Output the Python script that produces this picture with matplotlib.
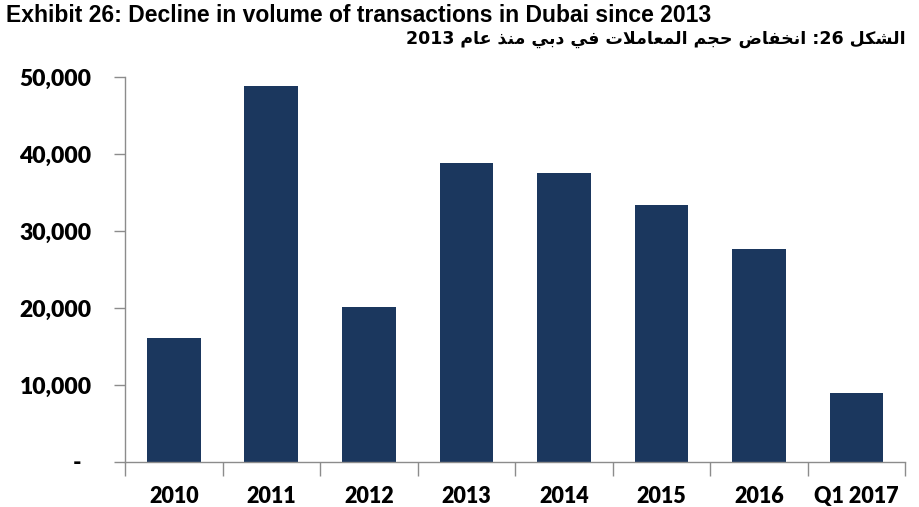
import matplotlib
matplotlib.use("Agg")
import matplotlib.pyplot as plt
from matplotlib.ticker import FixedLocator, FuncFormatter

categories = ["2010", "2011", "2012", "2013", "2014", "2015", "2016", "Q1 2017"]
values = [16150, 48800, 20100, 38800, 37500, 33400, 27700, 8900]
yticks = [0, 10000, 20000, 30000, 40000, 50000]

title_en = "Exhibit 26: Decline in volume of transactions in Dubai since 2013"
title_ar = "الشكل 26: انخفاض حجم المعاملات في دبي منذ عام 2013"

# --- minimal Arabic shaping (presentation forms) + visual ordering ---
FORMS = {  # isolated, final, initial, medial
    'ا': (0xFE8D, 0xFE8E, None, None),
    'ب': (0xFE8F, 0xFE90, 0xFE91, 0xFE92),
    'ت': (0xFE95, 0xFE96, 0xFE97, 0xFE98),
    'ج': (0xFE9D, 0xFE9E, 0xFE9F, 0xFEA0),
    'ح': (0xFEA1, 0xFEA2, 0xFEA3, 0xFEA4),
    'خ': (0xFEA5, 0xFEA6, 0xFEA7, 0xFEA8),
    'د': (0xFEA9, 0xFEAA, None, None),
    'ذ': (0xFEAB, 0xFEAC, None, None),
    'ش': (0xFEB5, 0xFEB6, 0xFEB7, 0xFEB8),
    'ض': (0xFEBD, 0xFEBE, 0xFEBF, 0xFEC0),
    'ع': (0xFEC9, 0xFECA, 0xFECB, 0xFECC),
    'ف': (0xFED1, 0xFED2, 0xFED3, 0xFED4),
    'ك': (0xFED9, 0xFEDA, 0xFEDB, 0xFEDC),
    'ل': (0xFEDD, 0xFEDE, 0xFEDF, 0xFEE0),
    'م': (0xFEE1, 0xFEE2, 0xFEE3, 0xFEE4),
    'ن': (0xFEE5, 0xFEE6, 0xFEE7, 0xFEE8),
    'ي': (0xFEF1, 0xFEF2, 0xFEF3, 0xFEF4),
}


def dual(c):
    return c in FORMS and FORMS[c][2] is not None


def shape_word(w):
    out = []
    i = 0
    n = len(w)
    while i < n:
        c = w[i]
        prev = w[i - 1] if i > 0 else ''
        joins_prev = dual(prev)
        if c == 'ل' and i + 1 < n and w[i + 1] == 'ا':
            out.append(chr(0xFEFC if joins_prev else 0xFEFB))
            i += 2
            continue
        if c not in FORMS:
            out.append(c)
            i += 1
            continue
        nxt = w[i + 1] if i + 1 < n else ''
        joins_next = dual(c) and nxt in FORMS
        iso, fin, ini, med = FORMS[c]
        if joins_prev and joins_next:
            g = med
        elif joins_prev:
            g = fin
        elif joins_next:
            g = ini
        else:
            g = iso
        out.append(chr(g))
        i += 1
    return ''.join(reversed(out))


def visual(text):
    parts = []
    for tok in text.split(' '):
        if any(ch in FORMS for ch in tok):
            parts.append(shape_word(tok))
        elif tok.endswith(':'):
            parts.append(':' + tok[:-1])
        else:
            parts.append(tok)
    return ' '.join(reversed(parts))


fig = plt.figure(figsize=(9.19, 5.07), dpi=100)
ax = fig.add_axes([0.136, 0.0888, 0.849, 0.7594])

x = list(range(len(categories)))
ax.bar(x, values, width=0.55, color="#1b375e", zorder=2)

ax.set_xlim(-0.5, len(categories) - 0.5)
ax.set_ylim(0, 50000)

axis_col = "#8c8c8c"
for s in ["top", "right"]:
    ax.spines[s].set_visible(False)
for s in ["left", "bottom"]:
    ax.spines[s].set_color(axis_col)
    ax.spines[s].set_linewidth(1.0)

ax.yaxis.set_major_locator(FixedLocator(yticks))
ax.yaxis.set_major_formatter(FuncFormatter(lambda v, p: "-  " if v == 0 else f"{int(v):,}"))
ax.tick_params(axis="y", direction="out", length=8, width=1, color=axis_col, pad=16,
               labelsize=16.5)

ax.set_xticks(x)
ax.set_xticklabels(categories)
ax.set_xticks([i - 0.5 for i in range(len(categories) + 1)], minor=True)
ax.tick_params(axis="x", which="major", length=0, pad=17, labelsize=15.5)
ax.tick_params(axis="x", which="minor", direction="out", length=10, width=1, color=axis_col)

for lab in ax.get_xticklabels() + ax.get_yticklabels():
    lab.set_fontfamily("Lato")
    lab.set_fontweight("heavy")
    lab.set_color("black")

fig.text(0.006, 0.992, title_en, ha="left", va="top", fontsize=16.5, fontweight="bold",
         family="Liberation Sans")
fig.text(0.985, 0.94, visual(title_ar), ha="right", va="top", fontsize=12.5, fontweight="bold",
         family=["DejaVu Sans"])

fig.savefig("out.png", dpi=100)
